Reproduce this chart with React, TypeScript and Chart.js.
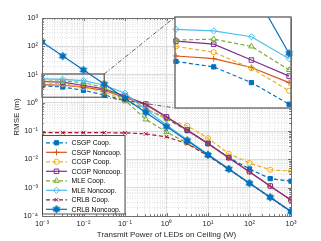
import React, { useEffect, useRef } from 'react';
import { Chart, registerables } from 'chart.js';
import { drawPoint } from 'chart.js/helpers';

Chart.register(...registerables);

// ---------------- data ----------------
const powerW = [0.001, 0.003162, 0.01, 0.03162, 0.1, 0.3162, 1, 3.162, 10, 31.62, 100, 316.2, 1000];

const seriesLabels = [
  'CSGP Coop.', 'CSGP Noncoop.', 'CCGP Coop.', 'CCGP Noncoop.',
  'MLE Coop.', 'MLE Noncoop.', 'CRLB Coop.', 'CRLB Noncoop.',
];

const csgpCoop = [4.0, 3.64, 2.77, 1.9, 1.2, 0.6, 0.28, 0.105, 0.036, 0.0118, 0.0046, 0.0021, 0.0017];
const csgpNoncoop = [4.4, 4.2, 3.6, 2.77, 1.55, 0.85, 0.31, 0.105, 0.036, 0.0113, 0.0036, 0.00113, 0.00036];
const ccgpCoop = [5.2, 4.7, 3.55, 2.4, 1.25, 0.62, 0.27, 0.155, 0.056, 0.016, 0.0075, 0.0043, 0.0039];
const ccgpNoncoop = [5.7, 5.4, 4.1, 3.1, 1.75, 0.91, 0.32, 0.11, 0.037, 0.0115, 0.0037, 0.00115, 0.00037];
const mleCoop = [5.8, 5.9, 5.2, 3.45, 1.25, 0.26, 0.093, 0.038, 0.014, 0.0045, 0.00142, 0.00045, 0.000142];
const mleNoncoop = [7.0, 6.8, 6.15, 4.2, 2.2, 0.58, 0.165, 0.05, 0.0152, 0.0047, 0.00148, 0.00047, 0.000148];
const crlbCoop = [0.088, 0.088, 0.088, 0.088, 0.087, 0.08, 0.063, 0.036, 0.0135, 0.0045, 0.00142, 0.00045, 0.000142];
const crlbNoncoop = [142, 45, 14.5, 4.6, 1.45, 0.46, 0.145, 0.046, 0.0145, 0.0046, 0.00145, 0.00046, 0.000145];

const series = [csgpCoop, csgpNoncoop, ccgpCoop, ccgpNoncoop, mleCoop, mleNoncoop, crlbCoop, crlbNoncoop];

const xTickValues = [1e-3, 1e-2, 1e-1, 1, 10, 100, 1000];
const xTickLabels = ['10⁻³', '10⁻²', '10⁻¹', '10⁰', '10¹', '10²', '10³'];
const yTickValues = [1e-4, 1e-3, 1e-2, 1e-1, 1, 10, 100, 1000];
const yTickLabels = ['10⁻⁴', '10⁻³', '10⁻²', '10⁻¹', '10⁰', '10¹', '10²', '10³'];
const xTitle = 'Transmit Power of LEDs on Ceiling (W)';
const yTitle = 'RMSE (m)';

// zoomed region (data coordinates) and inset axes ranges
const zoomX = [0.001, 0.03162];
const zoomY = [1.58, 10.5];
const insetX = [0.00097, 0.0335];
const insetY = [1.78, 8.67];
const insetPoints = 4;

// ---------------- styles ----------------
const colors = ['#0072BD', '#D95319', '#EDB120', '#7E2F8E', '#77AC30', '#4DBEEE', '#A2142F', '#0072BD'];
const dashed = [true, false, true, false, true, false, true, false];
const markers = ['rect', 'cross', 'circle', 'rect', 'triangle', 'rectRot', 'crossRot', 'hexagram'];
const filled = [true, false, false, false, false, false, false, true];
const radii = [3.0, 3.0, 2.6, 3.2, 3.1, 3.1, 2.6, 3.9];
const FONT = 'Liberation Sans, Arial, sans-serif';
const TEXT = '#262626';

const W = 321, H = 241;
const INSET = { left: 175, top: 17, right: 291, bottom: 108 };
const PAD = 6;

function makeHexagram(color: string, r: number) {
  const c = document.createElement('canvas');
  const s = Math.ceil(r * 2 + 2);
  c.width = s; c.height = s;
  const g = c.getContext('2d')!;
  const cx = s / 2, cy = s / 2, ri = r / Math.sqrt(3);
  g.beginPath();
  for (let k = 0; k < 12; k++) {
    const a = -Math.PI / 2 + (k * Math.PI) / 6;
    const rr = k % 2 === 0 ? r : ri;
    const px = cx + rr * Math.cos(a), py = cy + rr * Math.sin(a);
    if (k === 0) g.moveTo(px, py); else g.lineTo(px, py);
  }
  g.closePath();
  g.fillStyle = color; g.fill();
  g.strokeStyle = color; g.lineWidth = 0.8; g.stroke();
  return c;
}

const isDecade = (v: number) => Math.abs(Math.log10(v) - Math.round(Math.log10(v))) < 1e-6;

function logTicks(e0: number, e1: number) {
  const out: { value: number }[] = [];
  for (let e = e0; e <= e1; e++) {
    for (let m = 1; m <= 9; m++) {
      const v = m * Math.pow(10, e);
      if (e === e1 && m > 1) break;
      out.push({ value: v });
    }
  }
  return out;
}

function labelFor(v: number, vals: number[], labels: string[]) {
  for (let i = 0; i < vals.length; i++) {
    if (Math.abs(v - vals[i]) / vals[i] < 1e-6) return labels[i];
  }
  return '';
}

function buildDatasets(n: number, hex: HTMLCanvasElement, clip?: any) {
  return series.map((vals, i) => {
    const ds: any = {
      label: seriesLabels[i],
      data: powerW.slice(0, n).map((x, j) => ({ x, y: vals[j] })),
      borderColor: colors[i],
      backgroundColor: filled[i] ? colors[i] : 'rgba(0,0,0,0)',
      borderWidth: 1.2,
      borderDash: dashed[i] ? [4, 2.5] : [],
      pointStyle: markers[i] === 'hexagram' ? hex : markers[i],
      pointRadius: radii[i],
      pointBorderWidth: 1,
      pointBorderColor: colors[i],
      pointBackgroundColor: filled[i] ? colors[i] : 'rgba(0,0,0,0)',
      tension: 0,
      fill: false,
      order: series.length - i,
    };
    if (clip) ds.clip = clip;
    return ds;
  });
}

export default function App() {
  const mainRef = useRef<HTMLCanvasElement>(null);
  const insetRef = useRef<HTMLCanvasElement>(null);

  useEffect(() => {
    const hex = makeHexagram(colors[7], radii[7]);

    const mainDecor = {
      id: 'mainDecor',
      afterDatasetsDraw(chart: any) {
        const { ctx, scales: { x, y } } = chart;
        const rx0 = x.getPixelForValue(zoomX[0]);
        const rx1 = x.getPixelForValue(zoomX[1]);
        const ry0 = y.getPixelForValue(zoomY[1]);
        const ry1 = y.getPixelForValue(zoomY[0]);
        ctx.save();
        ctx.strokeStyle = '#5a5a5a';
        ctx.lineWidth = 1.2;
        ctx.strokeRect(rx0, ry0, rx1 - rx0, ry1 - ry0);
        ctx.setLineDash([4, 2, 1, 2]);
        ctx.lineWidth = 0.8;
        ctx.strokeStyle = '#333';
        ctx.beginPath();
        ctx.moveTo(rx1, ry0); ctx.lineTo(INSET.left, INSET.top);
        ctx.moveTo(rx1, ry1); ctx.lineTo(INSET.left, INSET.bottom);
        ctx.stroke();
        ctx.restore();
      },
      afterDraw(chart: any) {
        const { ctx, chartArea: a, scales: { x, y } } = chart;
        ctx.save();
        // inward ticks
        ctx.strokeStyle = '#555';
        ctx.lineWidth = 0.8;
        ctx.beginPath();
        x.ticks.forEach((t: any) => {
          const px = Math.round(x.getPixelForValue(t.value)) + 0.5;
          const len = isDecade(t.value) ? 3 : 1.8;
          ctx.moveTo(px, a.bottom); ctx.lineTo(px, a.bottom - len);
          ctx.moveTo(px, a.top); ctx.lineTo(px, a.top + len);
        });
        y.ticks.forEach((t: any) => {
          const py = Math.round(y.getPixelForValue(t.value)) + 0.5;
          const len = isDecade(t.value) ? 3 : 1.8;
          ctx.moveTo(a.left, py); ctx.lineTo(a.left + len, py);
          ctx.moveTo(a.right, py); ctx.lineTo(a.right - len, py);
        });
        ctx.stroke();
        // axes box
        ctx.strokeStyle = '#707070';
        ctx.lineWidth = 1;
        ctx.strokeRect(Math.round(a.left) + 0.5, Math.round(a.top) + 0.5, Math.round(a.right - a.left), Math.round(a.bottom - a.top));

        // legend
        const lg = { x: 42.5, y: 135.5, w: 82.5, h: 78.5 };
        ctx.fillStyle = '#fff';
        ctx.fillRect(lg.x, lg.y, lg.w, lg.h);
        ctx.strokeStyle = '#404040';
        ctx.lineWidth = 0.9;
        ctx.strokeRect(lg.x, lg.y, lg.w, lg.h);
        ctx.font = `6.8px ${FONT}`;
        ctx.textBaseline = 'middle';
        ctx.textAlign = 'left';
        seriesLabels.forEach((lab, i) => {
          const yy = 142.8 + i * 9.5;
          ctx.save();
          ctx.strokeStyle = colors[i];
          ctx.lineWidth = 1.2;
          ctx.setLineDash(dashed[i] ? [4, 2.5] : []);
          ctx.beginPath();
          ctx.moveTo(46, yy); ctx.lineTo(67, yy);
          ctx.stroke();
          ctx.setLineDash([]);
          ctx.strokeStyle = colors[i];
          ctx.fillStyle = filled[i] ? colors[i] : 'rgba(0,0,0,0)';
          ctx.lineWidth = 1;
          drawPoint(ctx, {
            pointStyle: markers[i] === 'hexagram' ? hex : markers[i],
            radius: radii[i], borderWidth: 1, rotation: 0,
          } as any, 56.5, yy);
          ctx.restore();
          ctx.fillStyle = '#000';
          ctx.fillText(lab, 71.5, yy + 0.5);
        });
        ctx.restore();
      },
    };

    const gridColor = (c: any) => (c.tick && isDecade(c.tick.value) ? '#dcdcdc' : '#e2e2e2');
    const gridDash = (c: any) => (c.tick && isDecade(c.tick.value) ? [] : [1, 1.5]);

    const main = new Chart(mainRef.current!, {
      type: 'line',
      data: { datasets: buildDatasets(powerW.length, hex) },
      options: {
        animation: false,
        responsive: true,
        maintainAspectRatio: false,
        devicePixelRatio: 1,
        layout: { padding: { left: 0, right: 30, top: 18, bottom: 0 } },
        plugins: { legend: { display: false }, tooltip: { enabled: false } },
        scales: {
          x: {
            type: 'logarithmic',
            min: 1e-3,
            max: 1e3,
            afterBuildTicks: (s: any) => { s.ticks = logTicks(-3, 3); },
            afterFit: (s: any) => { s.height = H - 216; },
            ticks: {
              autoSkip: false, maxRotation: 0, minRotation: 0, padding: 3,
              color: TEXT, font: { family: FONT, size: 7.5 },
              callback: (v: any) => labelFor(Number(v), xTickValues, xTickLabels),
            },
            grid: { color: gridColor, drawTicks: false, lineWidth: 1 },
            border: { display: false, dash: gridDash },
            title: {
              display: true, text: xTitle, color: TEXT,
              font: { family: FONT, size: 8 }, padding: { top: 0, bottom: 1 },
            },
          },
          y: {
            type: 'logarithmic',
            min: 1e-4,
            max: 1e3,
            afterBuildTicks: (s: any) => { s.ticks = logTicks(-4, 3); },
            afterFit: (s: any) => { s.width = 42; },
            ticks: {
              autoSkip: false, padding: 4,
              color: TEXT, font: { family: FONT, size: 7.5 },
              callback: (v: any) => labelFor(Number(v), yTickValues, yTickLabels),
            },
            grid: { color: gridColor, drawTicks: false, lineWidth: 1 },
            border: { display: false, dash: gridDash },
            title: {
              display: true, text: yTitle, color: TEXT,
              font: { family: FONT, size: 8 }, padding: { top: 12, bottom: 0 },
            },
          },
        },
      } as any,
      plugins: [mainDecor],
    });

    const insetDecor = {
      id: 'insetDecor',
      beforeDraw(chart: any) {
        const { ctx, chartArea: a } = chart;
        ctx.save();
        ctx.fillStyle = '#fff';
        ctx.fillRect(a.left, a.top, a.right - a.left, a.bottom - a.top);
        ctx.restore();
      },
      afterDraw(chart: any) {
        const { ctx, chartArea: a } = chart;
        ctx.save();
        ctx.strokeStyle = '#6a6a6a';
        ctx.lineWidth = 1.4;
        ctx.strokeRect(a.left, a.top, a.right - a.left, a.bottom - a.top);
        ctx.restore();
      },
    };

    const inset = new Chart(insetRef.current!, {
      type: 'line',
      data: { datasets: buildDatasets(insetPoints, hex, { left: PAD, right: PAD, top: 0, bottom: PAD }) },
      options: {
        animation: false,
        responsive: true,
        maintainAspectRatio: false,
        devicePixelRatio: 1,
        layout: { padding: PAD },
        plugins: { legend: { display: false }, tooltip: { enabled: false } },
        scales: {
          x: { type: 'logarithmic', min: insetX[0], max: insetX[1], display: false },
          y: { type: 'logarithmic', min: insetY[0], max: insetY[1], display: false },
        },
      } as any,
      plugins: [insetDecor],
    });

    return () => { main.destroy(); inset.destroy(); };
  }, []);

  const iw = INSET.right - INSET.left + 2 * PAD;
  const ih = INSET.bottom - INSET.top + 2 * PAD;

  return (
    <div style={{ position: 'fixed', left: 0, top: 0, width: W, height: H, background: '#fff' }}>
      <div style={{ position: 'absolute', left: 0, top: 0, width: W, height: H }}>
        <canvas ref={mainRef} />
      </div>
      <div style={{ position: 'absolute', left: INSET.left - PAD, top: INSET.top - PAD, width: iw, height: ih }}>
        <canvas ref={insetRef} />
      </div>
    </div>
  );
}
